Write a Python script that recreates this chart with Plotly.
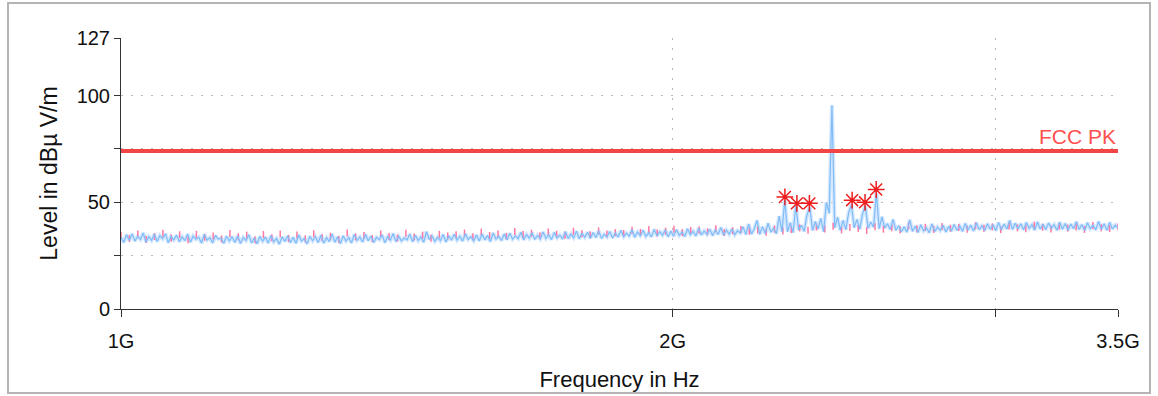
import numpy as np
import plotly.graph_objects as go

# ---------------- data ----------------
# sweep trace (blue), evenly spaced on the log-frequency axis
blue_level = [
    33.5,31.2,34.8,32.1,35.2,31.8,34.1,32.6,35.6,31.4,33.9,32.2,35.0,31.6,34.4,32.9,35.3,31.1,34.0,32.4,
    34.6,31.5,33.8,32.0,35.1,31.3,34.2,32.7,33.6,30.9,34.9,32.3,33.4,31.0,34.5,32.8,33.2,30.8,34.1,31.9,
    33.9,31.2,34.3,30.7,33.5,32.1,34.8,31.0,33.3,30.6,34.0,31.8,33.7,30.9,34.4,31.5,33.1,30.4,33.8,31.7,
    34.2,31.1,33.6,30.8,34.7,31.9,33.0,30.5,34.1,32.0,33.9,31.2,34.6,30.9,33.4,31.6,35.2,31.3,33.8,30.7,
    34.3,31.8,33.5,31.0,34.9,32.2,33.7,31.4,35.0,32.0,34.1,31.2,33.6,32.5,34.8,31.1,33.9,32.3,35.4,31.6,
    34.0,31.9,33.3,32.4,35.1,31.5,34.5,32.1,33.8,31.3,36.2,32.6,34.2,31.7,33.6,32.0,34.9,31.4,34.3,32.2,
    35.0,32.3,34.1,31.8,35.3,32.6,33.9,32.0,34.7,31.9,35.2,32.4,34.4,31.6,35.6,32.8,34.0,32.1,35.1,32.5,
    35.5,32.7,34.3,33.0,36.0,32.4,34.9,33.2,35.7,32.6,34.5,32.9,36.1,33.1,34.8,32.5,35.9,33.3,34.6,32.8,
    36.2,33.0,35.1,33.4,36.5,32.9,35.4,33.6,36.0,33.2,35.8,33.5,36.6,33.1,35.0,33.8,36.3,33.3,35.6,33.7,
    36.8,33.9,35.5,34.2,37.1,33.6,36.0,34.4,36.9,34.0,35.7,33.8,37.3,34.3,36.2,34.6,37.0,33.9,36.5,34.1,
    37.2,34.5,36.1,34.0,37.6,34.8,36.4,34.2,37.9,34.7,36.6,35.0,37.4,34.4,36.9,34.9,38.2,34.6,37.0,35.1,
    37.5,34.8,36.7,35.6,38.5,34.9,39.8,35.2,37.4,41.5,35.0,38.6,35.4,40.2,36.0,37.8,35.3,43.5,36.1,51.0,
    36.2,40.5,35.8,48.5,37.0,39.2,36.4,44.0,47.8,36.8,41.0,37.5,42.5,36.2,50.0,44.8,95.5,38.0,43.0,36.9,
    41.5,37.2,45.0,49.0,38.1,42.0,37.4,44.5,48.5,37.8,40.8,38.3,54.5,37.6,43.2,38.0,40.0,37.3,42.0,36.9,
    39.0,36.2,38.5,36.0,41.8,36.4,38.8,35.9,39.5,36.6,38.1,35.7,39.9,36.3,38.4,36.8,39.2,36.1,38.7,36.5,
    39.6,36.9,38.9,36.4,40.1,37.0,39.3,36.6,40.4,37.2,39.0,36.8,40.0,37.4,39.5,36.7,40.6,37.1,39.8,37.5,
    41.5,37.3,40.2,37.6,39.9,37.1,40.5,37.8,39.4,37.0,40.8,37.5,39.7,37.2,40.3,37.9,39.5,36.9,40.7,37.4,
    40.1,37.0,39.8,37.6,40.9,37.3,39.6,36.8,40.4,37.7,39.2,37.1,41.0,37.4,39.9,36.9,40.6,37.5,39.3,38.0,
]

# second trace (pink)
pink_level = [
    34.5,33.0,35.2,32.6,34.0,35.5,33.2,34.8,32.4,35.0,33.6,34.2,32.8,35.4,33.9,34.6,32.5,34.9,33.4,35.1,
    33.1,34.7,32.9,35.3,33.5,34.1,32.7,35.6,33.8,34.4,33.0,35.2,34.0,33.3,35.5,33.7,34.6,33.1,35.0,34.2,
    34.8,35.6,33.9,36.0,34.5,35.2,34.0,36.3,34.9,35.5,34.3,36.1,35.0,34.6,36.4,35.3,34.8,36.6,35.1,35.8,
    35.4,36.9,35.9,37.2,35.6,36.5,37.4,35.8,36.8,37.0,36.2,37.6,35.9,36.7,37.3,36.4,37.1,36.0,37.5,36.6,
    37.2,38.0,36.9,38.4,37.5,38.8,37.1,38.2,37.8,36.8,38.6,37.4,38.1,37.0,38.9,37.6,38.3,37.3,38.7,37.9,
    38.2,37.4,39.0,37.8,38.5,37.2,38.9,38.0,37.6,39.2,38.3,37.5,38.8,37.9,38.4,37.3,39.1,38.1,37.7,38.6,
]

f_start, f_stop = 1e9, 3.5e9
blue_freq = np.geomspace(f_start, f_stop, len(blue_level))
pink_freq = np.geomspace(f_start, f_stop, len(pink_level))

# peak markers (red asterisks)
peak_freq = [2.303e9, 2.338e9, 2.375e9, 2.506e9, 2.547e9, 2.583e9]
peak_level = [52.5, 49.5, 49.5, 51.0, 50.0, 56.0]

# limit line
limit_name = "FCC PK"
limit_freq = [1e9, 3.5e9]
limit_level = [74, 74]

x_tickvals = [1e9, 2e9, 3e9, 3.5e9]
x_ticktext = ["1G", "2G", "", "3.5G"]
y_tickvals = [0, 25, 50, 75, 100, 127]
y_ticktext = ["0", "", "50", "", "100", "127"]

# ---------------- figure ----------------
FONT = "Liberation Sans, Arial, sans-serif"
fig = go.Figure()

fig.add_trace(go.Scatter(x=blue_freq, y=blue_level, mode="lines",
                         line=dict(color="rgba(200,225,255,0.8)", width=4),
                         hoverinfo="skip", showlegend=False))
fig.add_trace(go.Scatter(x=pink_freq, y=pink_level, mode="markers",
                         marker=dict(symbol="line-ns-open", size=5, color="#ff78a4",
                                     line=dict(color="#ff78a4", width=1.5)),
                         hoverinfo="skip", showlegend=False))
fig.add_trace(go.Scatter(x=blue_freq, y=blue_level, mode="lines",
                         line=dict(color="#80bcf8", width=1.2),
                         showlegend=False))
fig.add_trace(go.Scatter(x=limit_freq, y=limit_level, mode="lines",
                         line=dict(color="#f24646", width=4),
                         showlegend=False))
fig.add_trace(go.Scatter(x=peak_freq, y=peak_level, mode="markers",
                         marker=dict(symbol="asterisk-open", size=14, color="#ee1c1c",
                                     line=dict(color="#ee1c1c", width=1.5)),
                         showlegend=False))

fig.add_annotation(x=np.log10(limit_freq[-1]), y=limit_level[-1], xref="x", yref="y",
                   text=limit_name, showarrow=False, xanchor="right", yanchor="bottom",
                   yshift=1, font=dict(family=FONT, size=21, color="#ff5050"))

grid = dict(showgrid=True, gridcolor="#b8b8b8", gridwidth=1, griddash="2px,8px")
fig.update_xaxes(type="log", range=[np.log10(f_start), np.log10(f_stop)],
                 tickvals=x_tickvals, ticktext=x_ticktext,
                 ticks="outside", ticklen=7, tickcolor="#333", tickwidth=1,
                 showline=True, linecolor="#333", linewidth=1, zeroline=False,
                 ticklabelstandoff=7, automargin=False,
                 tickfont=dict(family=FONT, size=20, color="#111"),
                 title=dict(text="Frequency in Hz", standoff=20,
                            font=dict(family=FONT, size=22, color="#111")),
                 **grid)
fig.update_yaxes(range=[0, 127], tickvals=y_tickvals, ticktext=y_ticktext,
                 ticks="outside", ticklen=6, tickcolor="#333", tickwidth=1,
                 showline=True, linecolor="#333", linewidth=1, zeroline=False,
                 automargin=False,
                 tickfont=dict(family=FONT, size=20, color="#111"),
                 title=dict(text="Level in dBµ V/m", standoff=12,
                            font=dict(family=FONT, size=23, color="#111")),
                 **grid)

# outer frame
L, R, T, B = 121, 40, 38, 87
W, H = 1158, 396
pw, ph = W - L - R, H - T - B
def px_x(px): return (px - L) / pw
def px_y(py): return (H - B - py) / ph
fig.add_shape(type="rect", xref="paper", yref="paper",
              x0=px_x(8), x1=px_x(1150), y0=px_y(393), y1=px_y(3),
              line=dict(color="#b4b4b4", width=2), layer="below")

fig.update_layout(width=W, height=H, margin=dict(l=L, r=R, t=T, b=B),
                  paper_bgcolor="white", plot_bgcolor="white",
                  font=dict(family=FONT))

fig.write_html("out.html", config={"displayModeBar": False},
               post_script="document.body.style.margin='0';")
